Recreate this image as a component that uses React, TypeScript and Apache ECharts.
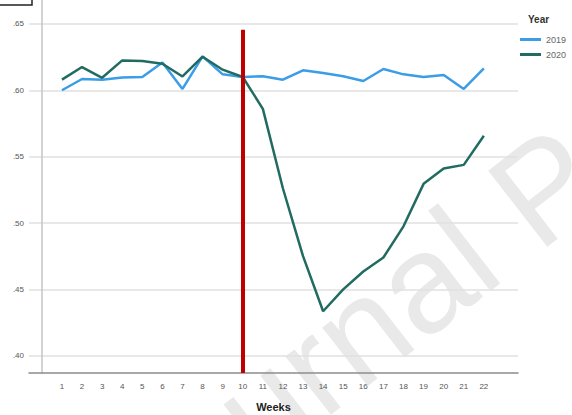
import React, { useEffect, useRef } from "react";
import * as echarts from "echarts";

// Weekly proportions, 2019 vs 2020
const weeks = [1, 2, 3, 4, 5, 6, 7, 8, 9, 10, 11, 12, 13, 14, 15, 16, 17, 18, 19, 20, 21, 22];
const year2019 = [
  0.6, 0.6085, 0.608, 0.6097, 0.61, 0.621, 0.601, 0.6255, 0.612, 0.61, 0.6105,
  0.608, 0.615, 0.613, 0.6105, 0.607, 0.616, 0.612, 0.61, 0.6115, 0.601, 0.6165,
];
const year2020 = [
  0.608, 0.6175, 0.6094, 0.6225, 0.622, 0.62, 0.6104, 0.6253, 0.6155, 0.61, 0.586,
  0.526, 0.475, 0.4335, 0.45, 0.4635, 0.474, 0.4975, 0.5295, 0.541, 0.5438, 0.5657,
];
const yTicks = [0.4, 0.45, 0.5, 0.55, 0.6, 0.65];
const seriesNames = ["2019", "2020"];
const markerWeek = 10;

const FONT = "'Liberation Sans', Arial, sans-serif";
const W = 572;
const H = 415;

export default function App() {
  const ref = useRef<HTMLDivElement>(null);

  useEffect(() => {
    if (!ref.current) return;
    const chart = echarts.init(ref.current, undefined, { renderer: "svg", width: W, height: H });
    const yMin = 0.387;
    const yMax = 0.668;
    chart.setOption({
      animation: false,
      backgroundColor: "#ffffff",
      grid: {
        left: 29,
        right: 54,
        top: 0,
        bottom: 42,
        containLabel: false,
        outerBoundsMode: "none",
      },
      legend: {
        data: seriesNames,
        orient: "vertical",
        left: 520,
        top: 35,
        padding: 0,
        icon: "rect",
        itemWidth: 21,
        itemHeight: 3,
        itemGap: 6,
        textStyle: { fontSize: 9, color: "#666", fontFamily: FONT },
      },
      graphic: [
        {
          type: "text",
          z: -10,
          silent: true,
          x: 158,
          y: 576,
          rotation: 0.66,
          style: {
            text: "Journal Pre-proof",
            fontSize: 140,
            fontFamily: FONT,
            fill: "#e9e9e9",
            textAlign: "left",
            textVerticalAlign: "bottom",
          },
        },
        {
          type: "text",
          x: 528,
          y: 19,
          style: {
            text: "Year",
            fontSize: 10,
            fontWeight: "bold",
            fontFamily: FONT,
            fill: "#333",
            textVerticalAlign: "middle",
          },
        },
        {
          type: "rect",
          shape: { x: -1, y: -1, width: 33, height: 6 },
          style: { fill: "none", stroke: "#222", lineWidth: 1.5 },
        },
      ],
      xAxis: {
        type: "value",
        min: -0.64,
        max: 23.7,
        name: "Weeks",
        nameLocation: "middle",
        nameGap: 28,
        nameTextStyle: { fontSize: 11, fontWeight: "bold", color: "#222", fontFamily: FONT },
        axisLine: { show: true, lineStyle: { color: "#8c8c8c", width: 1.5 } },
        axisTick: { show: false, customValues: weeks },
        axisLabel: {
          customValues: weeks,
          fontSize: 8,
          color: "#555",
          fontFamily: FONT,
          margin: 9,
        },
        splitLine: { show: false },
      },
      yAxis: {
        type: "value",
        min: yMin,
        max: yMax,
        axisLine: { show: true, lineStyle: { color: "#c4c4c4", width: 1.5 } },
        axisTick: { show: false, customValues: yTicks },
        axisLabel: {
          customValues: yTicks,
          fontSize: 8,
          color: "#555",
          fontFamily: FONT,
          margin: 5,
          formatter: (v: number) => v.toFixed(2).replace(/^0/, ""),
        },
        splitLine: { show: true, lineStyle: { color: "#e0e0e0", width: 1.5 } },
      },
      series: [
        {
          name: "2019",
          type: "line",
          data: weeks.map((w, i) => [w, year2019[i]]),
          symbol: "none",
          z: 3,
          lineStyle: { color: "#3a9de6", width: 2.5 },
          itemStyle: { color: "#3a9de6" },
        },
        {
          name: "2020",
          type: "line",
          data: weeks.map((w, i) => [w, year2020[i]]),
          symbol: "none",
          z: 4,
          lineStyle: { color: "#216b62", width: 2.5 },
          itemStyle: { color: "#216b62" },
          markLine: {
            silent: true,
            symbol: "none",
            z: 5,
            label: { show: false },
            lineStyle: { color: "#c00000", width: 4, type: "solid" },
            data: [[{ coord: [markerWeek, yMin] }, { coord: [markerWeek, 0.6456] }]],
          },
        },
      ],
    });
    return () => chart.dispose();
  }, []);

  return (
    <div
      ref={ref}
      style={{ position: "absolute", left: 0, top: 0, width: W, height: H }}
    />
  );
}
